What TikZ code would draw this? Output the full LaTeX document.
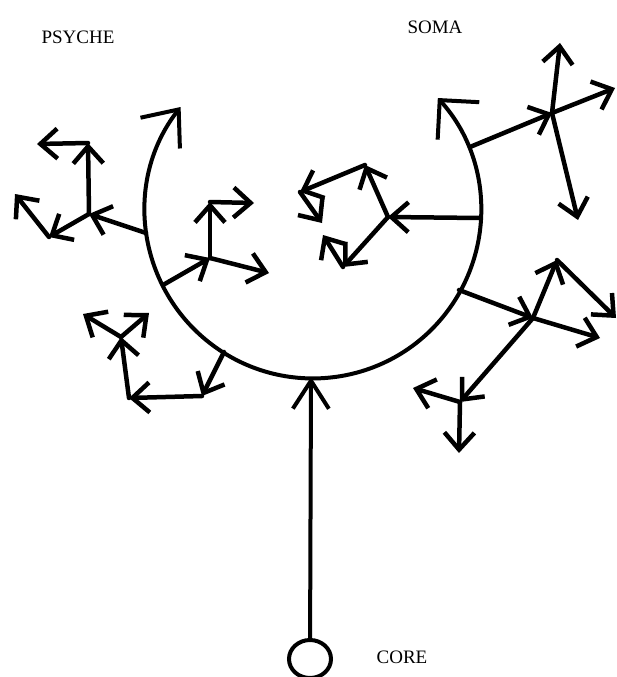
\documentclass[tikz,border=0pt]{standalone}
\usepackage{fontspec}
\setmainfont{Liberation Serif}
\usetikzlibrary{arrows.meta, shapes.geometric}

\tikzset{
    label/.style={font=\fontsize{19}{19}\selectfont, inner sep=0pt},
    link/.style={->, line width=4.5pt, line cap=round, line join=round},
}

\begin{document}
\begin{tikzpicture}[x=1pt, y=-1pt, >={Straight Barb[length=17pt, width=30pt]}]
    \useasboundingbox (0,0) rectangle (616,677);

    \node[label] (psyche) at (78, 37) {PSYCHE};
    \node[label] (soma) at (435, 27) {SOMA};
    \node[label] (corelabel) at (402, 657) {CORE};

    \node[draw, ellipse, line width=4pt, minimum width=42pt, minimum height=38pt, inner sep=0pt] (core) at (310, 659) {};
    \coordinate (bottom) at (311, 377);
    \draw[link, line width=4pt, >={Straight Barb[length=28pt, width=36pt]}] (core) -- (bottom);

    \draw[line width=4pt, line cap=round, {Straight Barb[length=30pt, width=50pt]}-{Straight Barb[length=28pt, width=56pt]}]
        (180.6, 107) arc[start angle=218, end angle=-42, radius=168];

    \coordinate (pa0) at (146, 233);
    \coordinate (pa1) at (89, 214);
    \coordinate (pa2) at (88, 143);
    \coordinate (pa3) at (37, 144);
    \coordinate (pa4) at (49, 237);
    \coordinate (pa5) at (15, 194);

    \coordinate (pb0) at (163, 285);
    \coordinate (pb1) at (210, 258);
    \coordinate (pb2) at (210, 202);
    \coordinate (pb3) at (254, 203);
    \coordinate (pb4) at (269, 273);

    \coordinate (pc0) at (224, 352);
    \coordinate (pc1) at (202, 396);
    \coordinate (pc2) at (129, 398);
    \coordinate (pc3) at (121, 337);
    \coordinate (pc4) at (83, 314);
    \coordinate (pc5) at (149, 313);

    \coordinate (sd0) at (480, 218);
    \coordinate (sd1) at (388, 217);
    \coordinate (sd2) at (365, 165);
    \coordinate (sd3) at (300, 192);
    \coordinate (sd4) at (322, 223);
    \coordinate (sd5) at (343, 267);
    \coordinate (sd6) at (323, 235);

    \coordinate (se0) at (470, 147);
    \coordinate (se1) at (552, 113);
    \coordinate (se2) at (560, 43);
    \coordinate (se3) at (615, 88);
    \coordinate (se4) at (578, 220);

    \coordinate (sf0) at (459, 290);
    \coordinate (sf1) at (533, 318);
    \coordinate (sf2) at (600, 338);
    \coordinate (sf3) at (557, 260);
    \coordinate (sf4) at (616, 318);
    \coordinate (sf5) at (460, 402);
    \coordinate (sf6) at (413, 388);
    \coordinate (sf7) at (459, 453);

    \draw[link] (pa0) -- (pa1);
    \draw[link] (pa1) -- (pa2);
    \draw[link] (pa2) -- (pa3);
    \draw[link] (pa1) -- (pa4);
    \draw[link] (pa4) -- (pa5);

    \draw[link] (pb0) -- (pb1);
    \draw[link] (pb1) -- (pb2);
    \draw[link] (pb2) -- (pb3);
    \draw[link] (pb1) -- (pb4);

    \draw[link] (pc0) -- (pc1);
    \draw[link] (pc1) -- (pc2);
    \draw[link] (pc2) -- (pc3);
    \draw[link] (pc3) -- (pc4);
    \draw[link] (pc3) -- (pc5);

    \draw[link] (sd0) -- (sd1);
    \draw[link] (sd1) -- (sd2);
    \draw[link] (sd2) -- (sd3);
    \draw[link] (sd3) -- (sd4);
    \draw[link] (sd1) -- (sd5);
    \draw[link] (sd5) -- (sd6);

    \draw[link] (se0) -- (se1);
    \draw[link] (se1) -- (se2);
    \draw[link] (se1) -- (se3);
    \draw[link] (se1) -- (se4);

    \draw[link] (sf0) -- (sf1);
    \draw[link] (sf1) -- (sf2);
    \draw[link] (sf1) -- (sf3);
    \draw[link] (sf3) -- (sf4);
    \draw[link] (sf1) -- (sf5);
    \draw[link] (sf5) -- (sf6);
    \draw[link] (sf5) -- (sf7);
\end{tikzpicture}
\end{document}
